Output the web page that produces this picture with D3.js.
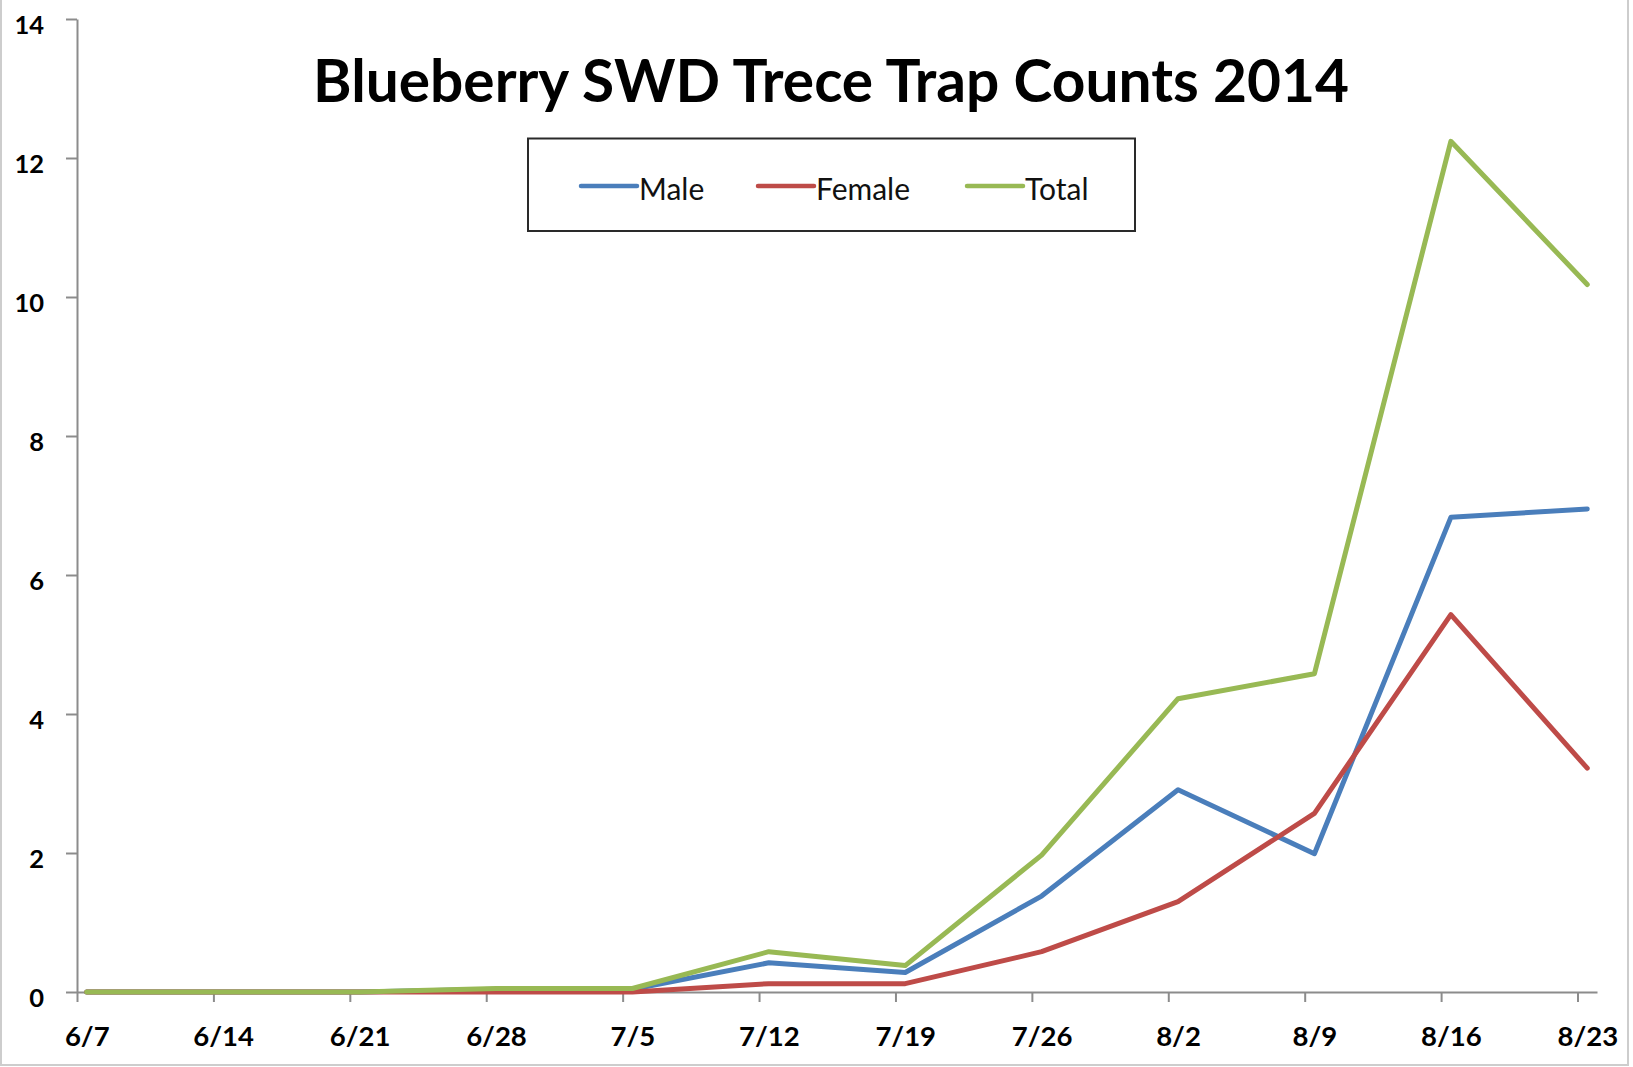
<!DOCTYPE html>
<html>
<head>
<meta charset="utf-8">
<script src="https://cdn.jsdelivr.net/npm/d3@7"></script>
<style>
  html, body { margin: 0; padding: 0; background: #fff; }
  svg { display: block; font-family: Lato, "Open Sans", sans-serif; }
</style>
</head>
<body>
<div id="chart"></div>
<script>
// Week dates of the trap checks (2014) and their axis labels
const dates = ['2014-06-07', '2014-06-14', '2014-06-21', '2014-06-28', '2014-07-05', '2014-07-12',
               '2014-07-19', '2014-07-26', '2014-08-02', '2014-08-09', '2014-08-16', '2014-08-23'];
const tickLabels = ['6/7', '6/14', '6/21', '6/28', '7/5', '7/12', '7/19', '7/26', '8/2', '8/9', '8/16', '8/23'];

// Trap counts
const male   = [0, 0, 0, 0.04, 0.04, 0.42, 0.28, 1.38, 2.91, 1.99, 6.83, 6.95];
const female = [0, 0, 0, 0, 0, 0.12, 0.12, 0.58, 1.30, 2.57, 5.43, 3.22];
const total  = [0, 0, 0, 0.05, 0.05, 0.58, 0.38, 1.97, 4.22, 4.58, 12.24, 10.18];

const yTicks = [0, 2, 4, 6, 8, 10, 12, 14];
const seriesNames = ['Male', 'Female', 'Total'];
const seriesColors = ['#4a7ebb', '#be4b48', '#98b954'];

const W = 1633, H = 1067;
const parse = d3.timeParse('%Y-%m-%d');
const dayDates = dates.map(parse);

const svg = d3.select('#chart').append('svg')
    .attr('width', W)
    .attr('height', H);

// light frame round the whole chart
svg.append('rect')
    .attr('x', 1).attr('y', -3)
    .attr('width', 1627).attr('height', 1068)
    .attr('fill', 'none')
    .attr('stroke', '#cdcdcd')
    .attr('stroke-width', 2);

// date axis runs half a day either side of first/last week
const x = d3.scaleTime()
    .domain([d3.timeHour.offset(dayDates[0], -12), d3.timeHour.offset(dayDates[dayDates.length - 1], 12)])
    .range([77, 1597]);
const y = d3.scaleLinear()
    .domain([0, 14])
    .range([992, 19]);
const halfDay = x(dayDates[1]) - x(d3.timeHour.offset(dayDates[1], -12));

// Y axis
const yAxis = svg.append('g')
    .attr('transform', 'translate(77,0)')
    .call(d3.axisLeft(y).tickValues(yTicks).tickSize(11).tickSizeOuter(0).tickFormat(d3.format('d')));
yAxis.select('.domain').attr('stroke', '#8c8c8c').attr('stroke-width', 2);
yAxis.selectAll('.tick line').attr('stroke', '#8c8c8c').attr('stroke-width', 2);
yAxis.selectAll('.tick text')
    .attr('x', -33)
    .attr('dy', '0.55em')
    .attr('fill', '#000')
    .attr('font-family', 'Lato, sans-serif')
    .attr('font-weight', 'bold')
    .attr('font-size', 25.5);

// X axis
const xAxis = svg.append('g')
    .attr('transform', 'translate(0,992)')
    .call(d3.axisBottom(x).tickValues(dayDates).tickSize(10).tickSizeOuter(0)
        .tickFormat((d, i) => tickLabels[i]));
xAxis.select('.domain').attr('stroke', '#8c8c8c').attr('stroke-width', 2);
xAxis.selectAll('.tick line')
    .attr('stroke', '#8c8c8c')
    .attr('stroke-width', 2)
    .attr('transform', `translate(${-halfDay},0)`);
xAxis.selectAll('.tick text')
    .attr('y', 0)
    .attr('dy', 54)
    .attr('fill', '#000')
    .attr('font-family', 'Lato, sans-serif')
    .attr('font-weight', 'bold')
    .attr('font-size', 27.5);

// Lines
const line = d3.line()
    .x((d, i) => x(dayDates[i]))
    .y(d => y(d));

[male, female, total].forEach((values, k) => {
    svg.append('path')
        .datum(values)
        .attr('fill', 'none')
        .attr('stroke', seriesColors[k])
        .attr('stroke-width', 5)
        .attr('stroke-linejoin', 'round')
        .attr('stroke-linecap', 'round')
        .attr('d', line);
});

// Title, fitted to the width it has in the original
const title = svg.append('text')
    .attr('x', 831)
    .attr('y', 102)
    .attr('text-anchor', 'middle')
    .attr('font-family', 'Lato, sans-serif')
    .attr('font-weight', 'bold')
    .attr('font-size', 58)
    .attr('fill', '#000')
    .text('Blueberry SWD Trece Trap Counts 2014');
const tw = title.node().getComputedTextLength();
title.attr('font-size', 58 * 1036 / tw);

// Legend
const legend = svg.append('g');
legend.append('rect')
    .attr('x', 528).attr('y', 138.5)
    .attr('width', 607).attr('height', 92.5)
    .attr('fill', '#fff')
    .attr('stroke', '#2a2a2a')
    .attr('stroke-width', 2);

const legendX = [581, 758, 967];
seriesNames.forEach((name, k) => {
    legend.append('line')
        .attr('x1', legendX[k]).attr('x2', legendX[k] + 56)
        .attr('y1', 186).attr('y2', 186)
        .attr('stroke', seriesColors[k])
        .attr('stroke-width', 4.5)
        .attr('stroke-linecap', 'round');
    legend.append('text')
        .attr('x', legendX[k] + 58)
        .attr('y', 200)
        .attr('font-family', 'Lato, sans-serif')
        .attr('font-size', 30)
        .attr('fill', '#111')
        .text(name);
});
</script>
</body>
</html>
